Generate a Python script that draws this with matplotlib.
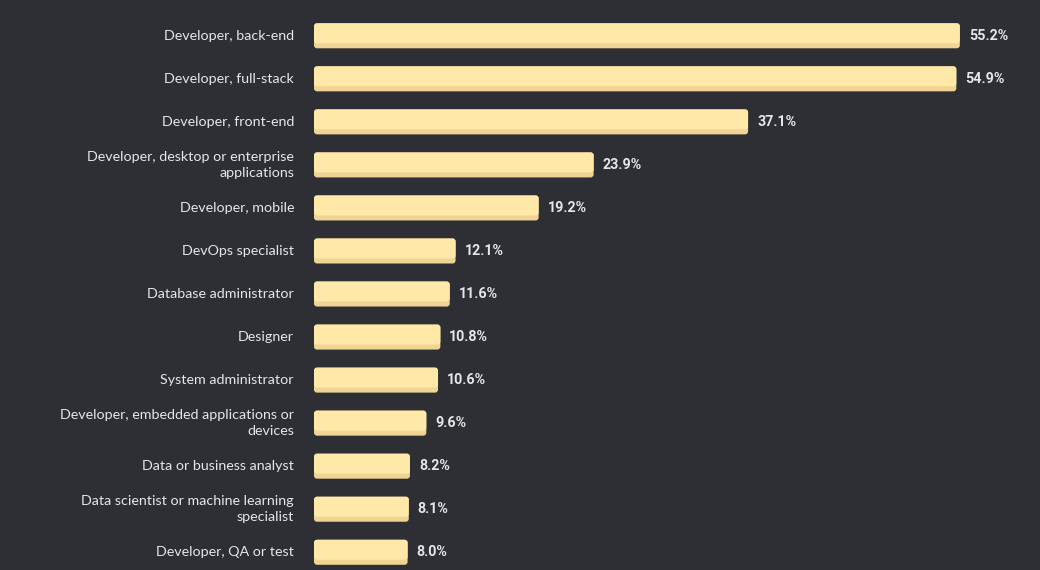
import matplotlib.pyplot as plt
from matplotlib.patches import FancyBboxPatch

roles = [
    "Developer, back-end",
    "Developer, full-stack",
    "Developer, front-end",
    "Developer, desktop or enterprise\napplications",
    "Developer, mobile",
    "DevOps specialist",
    "Database administrator",
    "Designer",
    "System administrator",
    "Developer, embedded applications or\ndevices",
    "Data or business analyst",
    "Data scientist or machine learning\nspecialist",
    "Developer, QA or test",
]
shares = [55.2, 54.9, 37.1, 23.9, 19.2, 12.1, 11.6, 10.8, 10.6, 9.6, 8.2, 8.1, 8.0]

BG = "#2d2f34"
BAR = "#ffe8a8"
BAR_EDGE = "#efd494"
TEXT = "#e6e6e6"

W, H = 1040, 570
left_px = 314
px_per_unit = 11.70   # x pixels per percent
row_px = 43.04
first_row_px = 35.8

fig = plt.figure(figsize=(W / 100, H / 100), dpi=100, facecolor=BG)
ax = fig.add_axes([left_px / W, 0, 1 - left_px / W, 1])
ax.set_facecolor(BG)
ax.set_xlim(0, (W - left_px) / px_per_unit)
ax.set_ylim((H - first_row_px) / row_px, -first_row_px / row_px)
ax.axis("off")

ux = 1 / px_per_unit   # data units per pixel, x
uy = 1 / row_px        # data units per pixel, y
bar_h = 25 * uy
strip = 5 * uy

for i, (name, val) in enumerate(zip(roles, shares)):
    top = i - bar_h / 2
    # darker base, lighter face on top
    for color, h in ((BAR_EDGE, bar_h), (BAR, bar_h - strip)):
        ax.add_patch(FancyBboxPatch(
            (0, top), val, h,
            boxstyle=f"round,pad=0,rounding_size={3 * ux}",
            mutation_aspect=uy / ux,
            facecolor=color, edgecolor="none",
        ))
    ax.text(val + 9 * ux, i, f"{val:.1f}%", ha="left", va="center",
            color=TEXT, fontsize=10.3, fontweight="bold", family="Roboto")
    ax.text(-20 * ux, i, name, ha="right", va="center", color=TEXT,
            fontsize=10.3, family="Lato", linespacing=1.42, clip_on=False,
            multialignment="right")

fig.savefig("out.png", dpi=100, facecolor=BG)
